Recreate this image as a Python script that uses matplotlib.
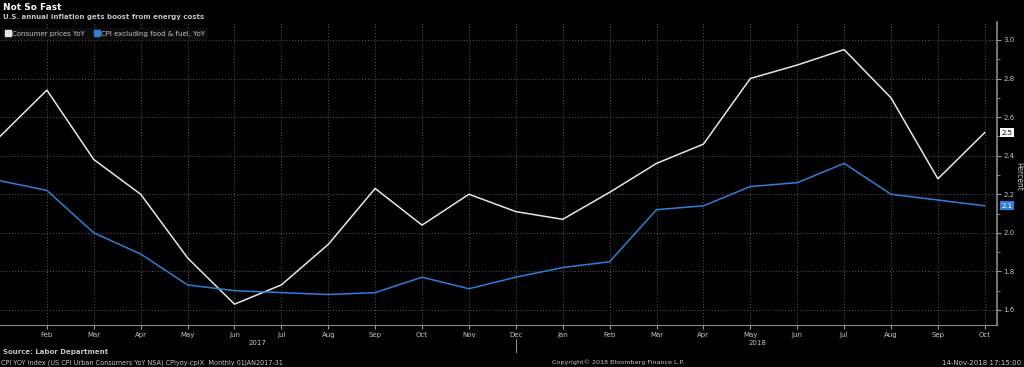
import matplotlib
matplotlib.use("Agg")
import matplotlib.pyplot as plt
from matplotlib.ticker import MultipleLocator
from matplotlib.lines import Line2D

months = ["Jan", "Feb", "Mar", "Apr", "May", "Jun", "Jul", "Aug", "Sep", "Oct", "Nov", "Dec",
          "Jan", "Feb", "Mar", "Apr", "May", "Jun", "Jul", "Aug", "Sep", "Oct"]
cpi = [2.50, 2.74, 2.38, 2.20, 1.87, 1.63, 1.73, 1.94, 2.23, 2.04, 2.20, 2.11,
       2.07, 2.21, 2.36, 2.46, 2.80, 2.87, 2.95, 2.70, 2.28, 2.52]
core = [2.27, 2.22, 2.00, 1.89, 1.73, 1.70, 1.69, 1.68, 1.69, 1.77, 1.71, 1.77,
        1.82, 1.85, 2.12, 2.14, 2.24, 2.26, 2.36, 2.20, 2.17, 2.14]
years = ["2017", "2018"]
year_pos = [5.5, 16.15]

x = list(range(len(months)))
white = "#e6e6e6"
blue = "#2e7fd9"
grey = "#c4c4c4"

fig = plt.figure(figsize=(10.24, 3.67), dpi=100, facecolor="black")
ax = fig.add_axes([0.0, 0.1144, 0.9736, 0.8256], facecolor="black")

ax.plot(x, cpi, color=white, lw=1.1)
ax.plot(x, core, color=blue, lw=1.1)

ax.set_xlim(0, 21.26)
ax.set_ylim(1.522, 3.093)

ax.yaxis.tick_right()
ax.yaxis.set_major_locator(MultipleLocator(0.2))
ax.yaxis.set_minor_locator(MultipleLocator(0.1))
ax.yaxis.set_major_formatter(matplotlib.ticker.FormatStrFormatter("%.1f"))
ax.tick_params(axis="y", which="both", colors="#9a9a9a", labelcolor=grey,
               labelsize=5, length=3, pad=1.5)
ax.tick_params(axis="y", which="minor", length=2)
fig.text(0.9945, 0.518, "Percent", color=grey, fontsize=5.5, rotation=270,
         ha="center", va="center")

ax.set_xticks(x[1:])
ax.set_xticklabels(months[1:])
ax.tick_params(axis="x", colors="#9a9a9a", labelcolor=grey, labelsize=5,
               length=3, pad=2)

for s in ["top", "left"]:
    ax.spines[s].set_visible(False)
ax.spines["right"].set_color("#8a8a8a")
ax.spines["bottom"].set_color("#8a8a8a")
ax.spines["right"].set_linewidth(1.2)

ax.grid(True, which="major", color="#5a5a5a", ls=(0, (1, 2)), lw=0.7)

for yr, p in zip(years, year_pos):
    ax.text(p, -0.05, yr, transform=ax.get_xaxis_transform(), ha="center",
            va="top", color=grey, fontsize=5)
ax.plot([11, 11], [-0.045, -0.09], transform=ax.get_xaxis_transform(),
        color="#8a8a8a", lw=0.8, clip_on=False)

# last-value tags
ax.annotate(f"{cpi[-1]:.1f}", xy=(1.0, cpi[-1]), xycoords=("axes fraction", "data"),
            xytext=(3, 0), textcoords="offset points", ha="left", va="center",
            fontsize=5, color="black",
            bbox=dict(boxstyle="square,pad=0.2", fc="white", ec="none"))
ax.annotate(f"{core[-1]:.1f}", xy=(1.0, core[-1]), xycoords=("axes fraction", "data"),
            xytext=(3, 0), textcoords="offset points", ha="left", va="center",
            fontsize=5, color="white",
            bbox=dict(boxstyle="square,pad=0.2", fc=blue, ec="none"))

handles = [Line2D([], [], ls="none", marker="s", markersize=5, color=white),
           Line2D([], [], ls="none", marker="s", markersize=5, color=blue)]
leg = ax.legend(handles=handles,
                labels=["Consumer prices YoY", "CPI excluding food & fuel, YoY"],
                loc="upper left", bbox_to_anchor=(0.002, 0.98),
                ncol=2, frameon=True, fontsize=5, handlelength=0.9,
                handletextpad=0.2, columnspacing=1.2,
                borderaxespad=0.0, borderpad=0.4)
leg.get_frame().set_facecolor("#0c0c0c")
leg.get_frame().set_edgecolor("none")
leg.get_frame().set_alpha(1)
for t in leg.get_texts():
    t.set_color(grey)

fig.text(0.003, 0.992, "Not So Fast", color="white", fontsize=6.5, weight="bold",
         ha="left", va="top")
fig.text(0.003, 0.962, "U.S. annual inflation gets boost from energy costs",
         color=grey, fontsize=5, weight="bold", ha="left", va="top")
fig.text(0.003, 0.04, "Source: Labor Department", color=grey, fontsize=5,
         weight="bold", ha="left", va="center")
fig.text(0.001, 0.012, "CPI YOY Index (US CPI Urban Consumers YoY NSA) CPIyoy-cpiX  Monthly 01JAN2017-31",
         color=grey, fontsize=4.7, ha="left", va="center")
fig.text(0.539, 0.012, "Copyright© 2018 Bloomberg Finance L.P.", color=grey,
         fontsize=4.6, ha="left", va="center")
fig.text(0.997, 0.012, "14-Nov-2018 17:15:00", color=grey, fontsize=5,
         ha="right", va="center")

fig.savefig("out.png", dpi=100, facecolor="black")
